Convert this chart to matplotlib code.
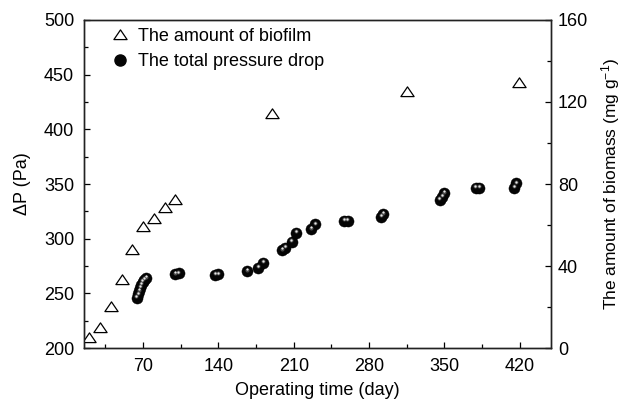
import numpy as np
import matplotlib
matplotlib.use("Agg")
import matplotlib.pyplot as plt
from matplotlib.ticker import MultipleLocator
from matplotlib.lines import Line2D
from matplotlib.path import Path
from matplotlib.transforms import offset_copy

plt.rcParams['font.family'] = ['Liberation Sans', 'DejaVu Sans']
plt.rcParams['mathtext.fontset'] = 'custom'
plt.rcParams['mathtext.rm'] = 'Liberation Sans'
plt.rcParams['mathtext.default'] = 'regular'

# biofilm amount (right axis, mg/g)
days_bio = [20, 30, 40, 50, 60, 70, 80, 90, 100, 190, 315, 419]
biomass = [4.7, 9.6, 19.8, 33.2, 47.8, 59.2, 63.0, 68.1, 72.2, 114.1, 124.7, 129.1]

# total pressure drop (left axis, Pa)
days_dp = [64, 65.5, 66.5, 67.5, 68.5, 69.5, 71, 72.5,
           100, 103, 137, 140, 167, 177, 181.5,
           199, 202, 208, 212.5, 226.5, 230, 257, 260,
           291, 293, 345.5, 348, 350, 379, 382, 415, 417]
dp = [246, 249, 252, 255, 258, 260.5, 262.5, 264,
      267.5, 268.2, 267, 267.3, 270.4, 273.4, 278,
      289.4, 291.9, 297.2, 305.6, 308.6, 313.1, 316.4, 316.4,
      320.1, 322.3, 335.4, 338.4, 341.5, 346.6, 346.6, 346.6, 350.6]

fig = plt.figure(figsize=(6.26, 4.04), dpi=100)
ax = fig.add_axes([0.134, 0.1386, 0.746, 0.8119])
ax2 = ax.twinx()

# wide open triangle, closed outline
tri = Path([(-1, -0.62), (1, -0.62), (0, 0.85), (-1, -0.62)], closed=True)

# spheres: black base + small highlight
ax.plot(days_dp, dp, 'o', ms=8.0, color='#050505', mec='#000000', mew=0.3, zorder=3)
hl1 = offset_copy(ax.transData, fig=fig, x=-0.2, y=1.5, units='dots')
hl2 = offset_copy(ax.transData, fig=fig, x=-0.2, y=1.8, units='dots')
ax.plot(days_dp, dp, 'o', ms=2.9, color='#4a4a4a', mew=0, transform=hl1, zorder=4)
ax.plot(days_dp, dp, 'o', ms=1.6, color='#e8e8e8', mew=0, transform=hl2, zorder=5)

ax2.plot(days_bio, biomass, linestyle='none', marker=tri, ms=9.5,
         mfc='white', mec='black', mew=0.9)

ax.set_xlim(15, 449)
ax.set_ylim(200, 500)
ax2.set_ylim(0, 160)

ax.xaxis.set_major_locator(MultipleLocator(70))
ax.xaxis.set_minor_locator(MultipleLocator(35))
ax.yaxis.set_major_locator(MultipleLocator(50))
ax.yaxis.set_minor_locator(MultipleLocator(25))
ax2.yaxis.set_major_locator(MultipleLocator(40))
ax2.yaxis.set_minor_locator(MultipleLocator(20))

ax.tick_params(which='both', direction='in', top=False, right=False, labelsize=13, pad=7)
ax.tick_params(which='major', length=4.5, width=0.9)
ax.tick_params(which='minor', length=3, width=0.9)
ax2.tick_params(which='both', direction='in', labelsize=13, pad=5)
ax2.tick_params(which='major', length=4.5, width=0.9)
ax2.tick_params(which='minor', length=3, width=0.9)

for a in (ax, ax2):
    for s in a.spines.values():
        s.set_linewidth(1.0)
        s.set_color('#222222')

ax.set_xlabel('Operating time (day)', fontsize=13, labelpad=5)
ax.set_ylabel('ΔP (Pa)', fontsize=13, labelpad=9)
ax2.set_ylabel('The amount of biomass (mg g$^{-1}$)', fontsize=12.5, labelpad=8)

handles = [
    Line2D([], [], linestyle='none', marker=tri, ms=9.5, mfc='white', mec='black', mew=0.9),
    Line2D([], [], linestyle='none', marker='o', ms=8.0, color='#050505'),
]
ax2.legend(handles, ['The amount of biofilm', 'The total pressure drop'],
           loc='upper left', bbox_to_anchor=(0.02, 1.025), frameon=False,
           fontsize=13, handletextpad=0.4, labelspacing=0.45, handlelength=1.2)

fig.savefig('out.png', dpi=100)
